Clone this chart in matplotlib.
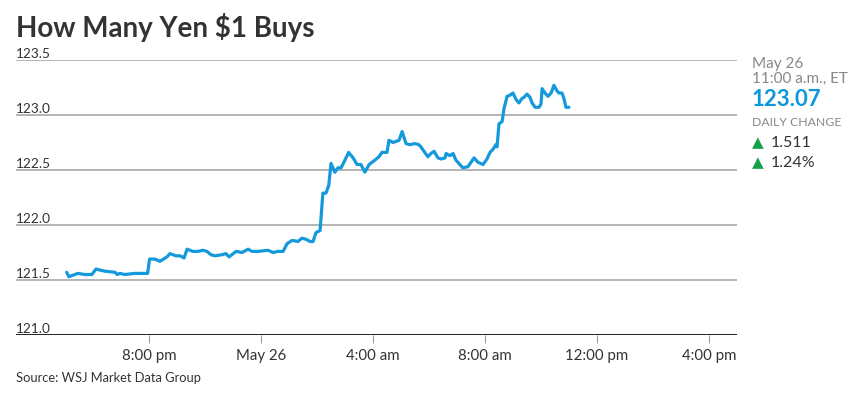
import matplotlib
matplotlib.use("Agg")
import matplotlib.pyplot as plt
from matplotlib.transforms import blended_transform_factory

# hours relative to midnight May 26 (ET)
hours = [-6.94, -6.86, -6.75, -6.54, -6.29, -6.04, -5.89, -5.75, -5.57, -5.21,
         -5.14, -5.04, -4.86, -4.50, -4.05, -3.98, -3.79, -3.61, -3.36, -3.25,
         -3.04, -2.89, -2.75, -2.64, -2.43, -2.25, -2.07, -1.93, -1.79, -1.64,
         -1.39, -1.25, -1.14, -0.89, -0.68, -0.46, -0.32, -0.11, 0.25, 0.43,
         0.61, 0.79, 0.93, 1.11, 1.32, 1.46, 1.61, 1.75, 1.86, 1.96,
         2.11, 2.21, 2.32, 2.42, 2.50, 2.64, 2.75, 2.86, 2.96, 3.13,
         3.29, 3.43, 3.57, 3.71, 3.86, 4.07, 4.21, 4.32, 4.50, 4.57,
         4.71, 4.93, 5.04, 5.18, 5.32, 5.50, 5.64, 5.71, 5.82, 5.96,
         6.07, 6.18, 6.32, 6.43, 6.57, 6.61, 6.75, 6.86, 6.96, 7.14,
         7.21, 7.39, 7.50, 7.61, 7.75, 7.93, 8.07, 8.18, 8.29, 8.39,
         8.43, 8.50, 8.61, 8.68, 8.79, 8.89, 9.00, 9.11, 9.21, 9.32,
         9.39, 9.50, 9.61, 9.68, 9.79, 9.93, 10.00, 10.04, 10.14, 10.25,
         10.36, 10.46, 10.57, 10.64, 10.75, 10.82, 10.89, 11.00]
yen = [121.57, 121.53, 121.54, 121.56, 121.55, 121.55, 121.60, 121.59, 121.58, 121.57,
       121.55, 121.56, 121.55, 121.56, 121.56, 121.69, 121.69, 121.67, 121.71, 121.74,
       121.72, 121.72, 121.70, 121.78, 121.76, 121.76, 121.77, 121.76, 121.73, 121.72,
       121.73, 121.74, 121.71, 121.76, 121.75, 121.78, 121.76, 121.76, 121.77, 121.75,
       121.76, 121.76, 121.83, 121.86, 121.85, 121.88, 121.87, 121.85, 121.85, 121.93,
       121.95, 122.29, 122.29, 122.36, 122.56, 122.48, 122.52, 122.52, 122.57, 122.66,
       122.61, 122.55, 122.55, 122.48, 122.55, 122.59, 122.62, 122.66, 122.66, 122.77,
       122.75, 122.77, 122.85, 122.74, 122.73, 122.74, 122.73, 122.71, 122.67, 122.62,
       122.65, 122.67, 122.61, 122.60, 122.61, 122.65, 122.63, 122.65, 122.59, 122.54,
       122.52, 122.53, 122.57, 122.61, 122.57, 122.55, 122.60, 122.66, 122.69, 122.73,
       122.71, 122.92, 122.94, 123.06, 123.17, 123.18, 123.20, 123.14, 123.11, 123.15,
       123.16, 123.19, 123.16, 123.11, 123.07, 123.07, 123.10, 123.24, 123.20, 123.17,
       123.20, 123.27, 123.22, 123.20, 123.20, 123.15, 123.07, 123.07]

y_ticks = [121.0, 121.5, 122.0, 122.5, 123.0, 123.5]
y_tick_labels = ["121.0", "121.5", "122.0", "122.5", "123.0", "123.5"]
x_ticks = [-4, 0, 4, 8, 12, 16]
x_tick_labels = ["8:00 pm", "May 26", "4:00 am", "8:00 am", "12:00 pm", "4:00 pm"]

title = "How Many Yen $1 Buys"
source = "Source: WSJ Market Data Group"
panel_date = "May 26"
panel_time = "11:00 a.m., ET"
last_value = "123.07"
change_abs = "1.511"
change_pct = "1.24%"

plt.rcParams['font.family'] = ['Lato', 'DejaVu Sans']

fig = plt.figure(figsize=(8.6, 3.94), dpi=100)
ax = fig.add_axes([16/860, 1-335/394, (737-16)/860, (335-60)/394])

ax.set_xlim(-8.75, 17.0)
ax.set_ylim(121.0, 123.5)

for v in y_ticks[1:]:
    ax.axhline(v, color='#a0a0a0', lw=1.1, zorder=1)
ax.axhline(121.0, color='#231f20', lw=1.4, zorder=3)

ax.plot(hours, yen, color='#1499dc', lw=2.3, solid_joinstyle='round',
        solid_capstyle='round', zorder=4)

for s in ax.spines.values():
    s.set_visible(False)
ax.set_yticks([])
ax.set_xticks(x_ticks)
ax.set_xticklabels(x_tick_labels, fontsize=10.8, color='#333333')
ax.tick_params(axis='x', length=6, width=0.8, color='#999999', pad=4)

trans = blended_transform_factory(ax.transAxes, ax.transData)
for v, lab in zip(y_ticks, y_tick_labels):
    ax.text(0.0, v, lab, transform=trans, ha='left', va='bottom',
            fontsize=9.8, color='#333333')

fig.text(16/860, 1-28/394, title, fontsize=20, fontweight='bold',
         color='#333333', ha='left', va='center')
fig.text(16/860, 1-378/394, source, fontsize=9.3, color='#333333',
         ha='left', va='center')

px = 752/860
fig.text(px, 1-64/394, panel_date, fontsize=11, color='#888888', va='center')
fig.text(px, 1-79/394, panel_time, fontsize=11, color='#888888', va='center')
fig.text(px, 1-100/394, last_value, fontsize=16, fontweight='bold',
         color='#0a97db', va='center')
fig.text(px, 1-123/394, "DAILY CHANGE", fontsize=8.8, color='#888888', va='center')
fig.text(px, 1-143/394, "\u25B2", fontsize=11, color='#16a04a', va='center',
         family='DejaVu Sans')
fig.text(px + 19/860, 1-143/394, change_abs, fontsize=11.5, color='#333333', va='center')
fig.text(px, 1-163/394, "\u25B2", fontsize=11, color='#16a04a', va='center',
         family='DejaVu Sans')
fig.text(px + 19/860, 1-163/394, change_pct, fontsize=11.5, color='#333333', va='center')

fig.savefig("out.png", dpi=100)
